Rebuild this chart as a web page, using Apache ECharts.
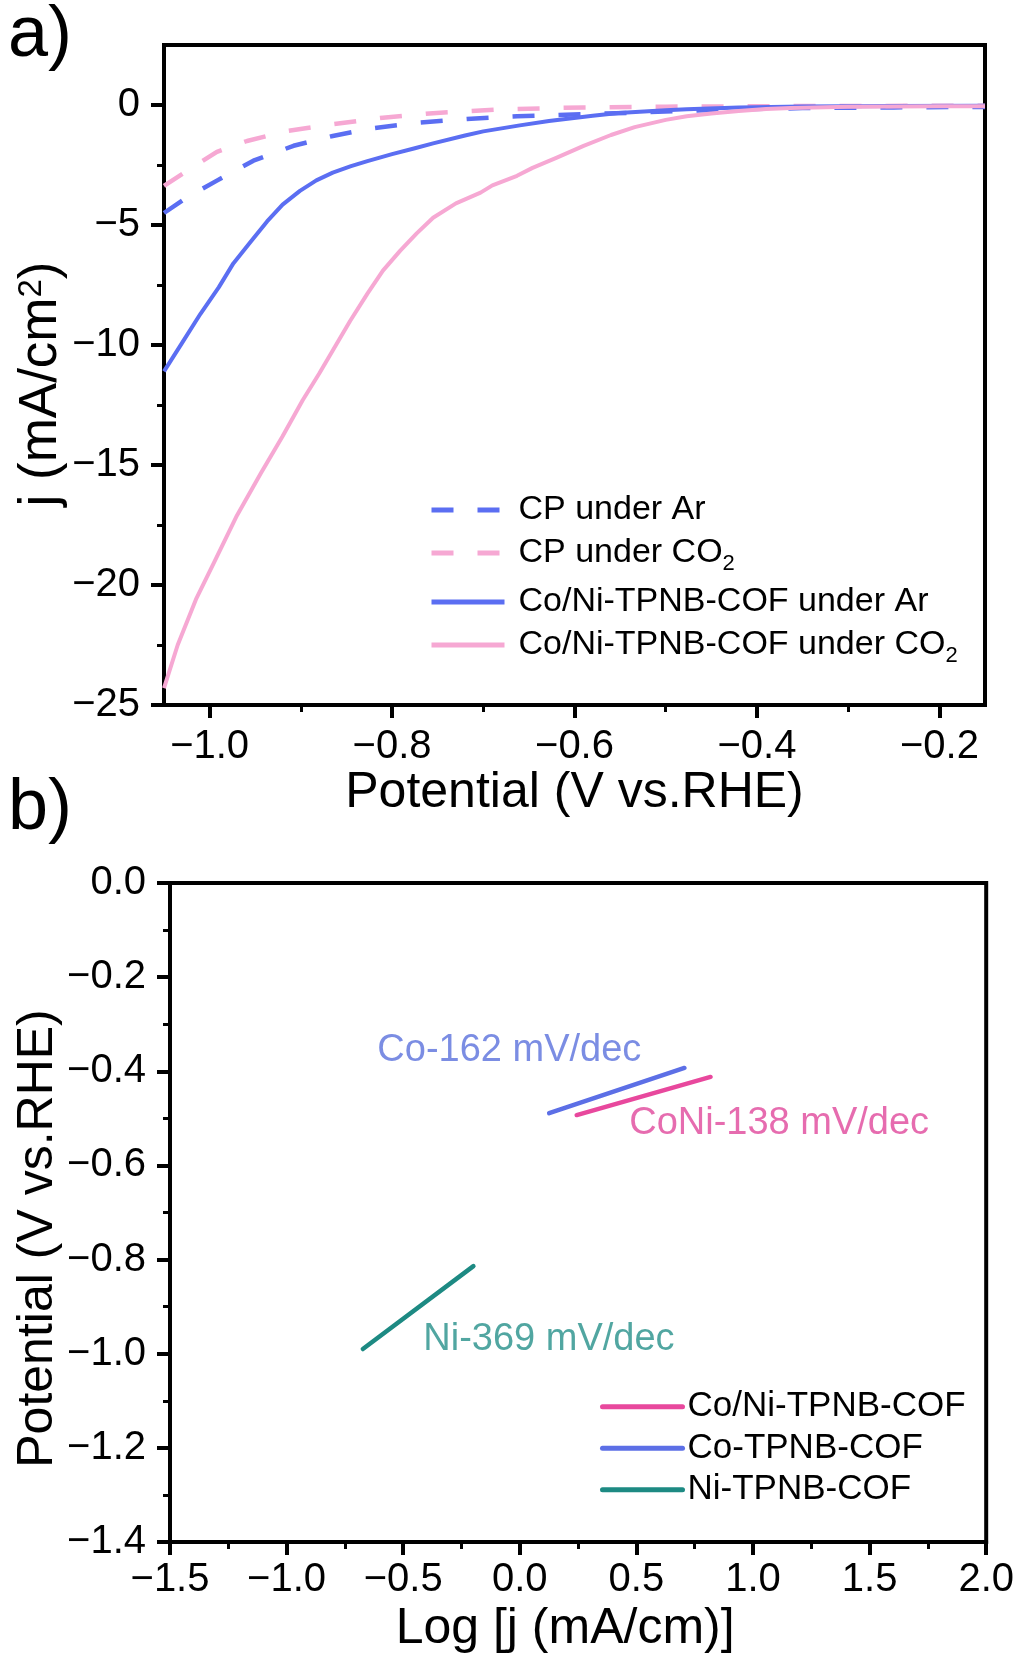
<!DOCTYPE html>
<html>
<head>
<meta charset="utf-8">
<script src="https://cdn.jsdelivr.net/npm/echarts@6/dist/echarts.min.js"></script>
<style>
  html, body { margin: 0; padding: 0; background: #fff; }
  #chart { width: 1017px; height: 1659px; }
</style>
</head>
<body>
<div id="chart"></div>
<script>
const FONT = '"Liberation Sans", Arial, Helvetica, sans-serif';

// ---- Panel a: LSV curves, potential (V vs. RHE) and current density (mA/cm2) ----
const cpArV = [-1.05, -1.025, -0.992, -0.952, -0.908, -0.865, -0.827, -0.773, -0.718, -0.663, -0.628, -0.58, -0.534, -0.477, -0.42, -0.35, -0.25, -0.15];
const cpArJ = [-4.5, -3.85, -3.15, -2.32, -1.7, -1.29, -1.0, -0.74, -0.58, -0.47, -0.43, -0.37, -0.32, -0.24, -0.18, -0.13, -0.1, -0.08];

const cpCo2V = [-1.05, -1.025, -0.992, -0.959, -0.915, -0.865, -0.81, -0.755, -0.682, -0.59, -0.5, -0.4, -0.3, -0.15];
const cpCo2J = [-3.37, -2.75, -1.95, -1.5, -1.08, -0.8, -0.53, -0.34, -0.18, -0.1, -0.07, -0.05, -0.04, -0.03];

const cofArV = [-1.05, -1.03, -1.01, -0.99, -0.974, -0.955, -0.937, -0.92, -0.901, -0.883, -0.865, -0.845, -0.827, -0.8, -0.775, -0.755, -0.72, -0.7, -0.66, -0.628, -0.58, -0.552, -0.5, -0.477, -0.42, -0.35, -0.25, -0.15];
const cofArJ = [-11.1, -9.9, -8.7, -7.6, -6.6, -5.7, -4.85, -4.15, -3.58, -3.14, -2.82, -2.55, -2.34, -2.05, -1.8, -1.6, -1.27, -1.1, -0.85, -0.67, -0.45, -0.33, -0.22, -0.18, -0.1, -0.06, -0.04, -0.03];

const cofCo2V = [-1.05, -1.035, -1.015, -0.994, -0.97, -0.944, -0.92, -0.898, -0.88, -0.865, -0.846, -0.827, -0.81, -0.791, -0.773, -0.755, -0.73, -0.703, -0.69, -0.663, -0.646, -0.62, -0.59, -0.56, -0.534, -0.5, -0.477, -0.45, -0.42, -0.39, -0.363, -0.3, -0.2, -0.15];
const cofCo2J = [-24.3, -22.5, -20.6, -18.97, -17.1, -15.35, -13.8, -12.3, -11.2, -10.23, -9.0, -7.86, -6.9, -6.07, -5.35, -4.7, -4.1, -3.65, -3.35, -2.95, -2.62, -2.2, -1.7, -1.25, -0.92, -0.62, -0.47, -0.35, -0.25, -0.17, -0.12, -0.07, -0.05, -0.05];

// ---- Panel b: Tafel fits, log j and potential at both ends of each fit ----
const tafelCoNiLog = [0.244, 0.818];
const tafelCoNiE = [-0.493, -0.412];
const tafelCoLog = [0.126, 0.706];
const tafelCoE = [-0.489, -0.393];
const tafelNiLog = [-0.673, -0.199];
const tafelNiE = [-0.99, -0.814];

// Slope annotations: text and the data point at the start of each text
const slopeTexts = ['Co-162 mV/dec', 'CoNi-138 mV/dec', 'Ni-369 mV/dec'];
const slopeAnchors = [[-0.613, -0.355], [0.467, -0.51], [-0.416, -0.969]];

// ---- Tick labels ----
const aXTicks = [-1.0, -0.8, -0.6, -0.4, -0.2];
const aYTicks = [0, -5, -10, -15, -20, -25];
const bXTicks = [-1.5, -1.0, -0.5, 0.0, 0.5, 1.0, 1.5, 2.0];
const bYTicks = [0.0, -0.2, -0.4, -0.6, -0.8, -1.0, -1.2, -1.4];

// Legend names
const legendNamesA = ['CP under Ar', 'CP under CO2', 'Co/Ni-TPNB-COF under Ar', 'Co/Ni-TPNB-COF under CO2'];
const legendNamesB = ['Co/Ni-TPNB-COF', 'Co-TPNB-COF', 'Ni-TPNB-COF'];

const BLUE = '#5b6ef2';
const PINK = '#f6a8d3';
const MAGENTA = '#e8489d';
const BLUE_B = '#5c6fe6';
const TEAL = '#1d8a83';

const zip = (xs, ys) => xs.map((x, i) => [x, ys[i]]);
const fmt = d => v => (v < 0 ? '\u2212' : '') + Math.abs(v).toFixed(d);

const tickStyle = { length: 13, lineStyle: { color: '#000', width: 4 } };
const minorStyle = { show: true, splitNumber: 2, length: 7, lineStyle: { color: '#000', width: 3 } };
const lineAxis = { onZero: false, lineStyle: { color: '#000', width: 4 } };
const labelBase = { color: '#000', fontFamily: FONT, fontSize: 40 };
const nameBase = { color: '#000', fontFamily: FONT, fontSize: 50 };

const chart = echarts.init(document.getElementById('chart'), null, { renderer: 'canvas' });

const dash = [22, 24];
const lineSeries = (name, data, color, type, xi, width) => ({
  name, type: 'line', data, xAxisIndex: xi, yAxisIndex: xi,
  symbol: 'none', showSymbol: false, smooth: false,
  lineStyle: { color, width, type, cap: xi === 1 ? 'round' : 'butt', join: 'round' },
  itemStyle: { color },
  emphasis: { disabled: true }, silent: true, z: 3
});

// Panel a legend: one block per entry so the subscripted rows keep their own spacing
const legendTopsA = [488, 531, 580, 623];
const legendA = legendNamesA.map((n, i) => ({
  data: [n],
  orient: 'vertical', left: 429, top: legendTopsA[i], padding: 0,
  itemWidth: 73, itemHeight: 10, selectedMode: false,
  itemStyle: { opacity: 0 },
  lineStyle: { width: 5 },
  formatter: s => s.replace('CO2', 'CO{s|2}'),
  textStyle: {
    color: '#000', fontFamily: FONT, fontSize: 34, lineHeight: 44, padding: [0, 0, 0, 9],
    rich: { s: { fontSize: 22, lineHeight: 22, verticalAlign: 'bottom', color: '#000', fontFamily: FONT } }
  }
}));

const option = {
  backgroundColor: '#fff',
  animation: false,
  textStyle: { fontFamily: FONT },
  grid: [
    { left: 164, top: 45, right: 32, bottom: 954, show: true, borderColor: '#000', borderWidth: 4, backgroundColor: 'transparent' },
    { left: 170, top: 883, right: 29, bottom: 117, show: true, borderColor: '#000', borderWidth: 4, backgroundColor: 'transparent' }
  ],
  xAxis: [
    {
      gridIndex: 0, type: 'value', min: -1.05, max: -0.15, splitNumber: 5,
      axisLine: lineAxis,
      axisTick: Object.assign({ customValues: aXTicks }, tickStyle),
      minorTick: minorStyle,
      axisLabel: Object.assign({ customValues: aXTicks, formatter: fmt(1), margin: 22 }, labelBase),
      splitLine: { show: false },
      name: 'Potential (V vs.RHE)', nameLocation: 'middle', nameGap: 63, nameMoveOverlap: false,
      nameTextStyle: nameBase
    },
    {
      gridIndex: 1, type: 'value', min: -1.5, max: 2.0, interval: 0.5,
      axisLine: lineAxis,
      axisTick: Object.assign({ customValues: bXTicks }, tickStyle),
      minorTick: minorStyle,
      axisLabel: Object.assign({ customValues: bXTicks, formatter: fmt(1), margin: 18 }, labelBase),
      splitLine: { show: false },
      name: 'Log [j (mA/cm)]', nameLocation: 'middle', nameGap: 62, nameMoveOverlap: false,
      nameTextStyle: Object.assign({ padding: [0, 26, 0, 0] }, nameBase)
    }
  ],
  yAxis: [
    {
      gridIndex: 0, type: 'value', min: -25, max: 2.5, interval: 5,
      axisLine: lineAxis,
      axisTick: Object.assign({ customValues: aYTicks }, tickStyle),
      minorTick: minorStyle,
      axisLabel: Object.assign({ customValues: aYTicks, formatter: fmt(0), margin: 24 }, labelBase),
      splitLine: { show: false },
      name: 'j (mA/cm{sup|2})', nameLocation: 'middle', nameGap: 96, nameMoveOverlap: false,
      nameTextStyle: Object.assign({}, nameBase, {
        fontSize: 53,
        padding: [0, 18, 0, 0],
        rich: { sup: { fontSize: 33, fontFamily: FONT, color: '#000', verticalAlign: 'top', lineHeight: 33 } }
      })
    },
    {
      gridIndex: 1, type: 'value', min: -1.4, max: 0, interval: 0.2,
      axisLine: lineAxis,
      axisTick: Object.assign({ customValues: bYTicks }, tickStyle),
      minorTick: minorStyle,
      axisLabel: Object.assign({ customValues: bYTicks, formatter: fmt(1), margin: 24 }, labelBase),
      splitLine: { show: false },
      name: 'Potential (V vs.RHE)', nameLocation: 'middle', nameGap: 107, nameMoveOverlap: false,
      nameTextStyle: Object.assign({ padding: [0, 52, 0, 0] }, nameBase)
    }
  ],
  legend: legendA.concat([
    {
      data: legendNamesB,
      orient: 'vertical', left: 600, top: 1386, padding: 0,
      itemWidth: 80, itemHeight: 10, itemGap: 0, selectedMode: false,
      itemStyle: { opacity: 0 },
      lineStyle: { width: 5 },
      textStyle: { color: '#000', fontFamily: FONT, fontSize: 35, lineHeight: 41.5 }
    }
  ]),
  graphic: [
    { type: 'text', left: 8, top: 0, style: { text: 'a)', font: '72px ' + FONT, fill: '#000' } },
    { type: 'text', left: 8, top: 773, style: { text: 'b)', font: '72px ' + FONT, fill: '#000' } }
  ],
  series: [
    lineSeries(legendNamesA[0], zip(cpArV, cpArJ), BLUE, dash, 0, 4.5),
    lineSeries(legendNamesA[1], zip(cpCo2V, cpCo2J), PINK, dash, 0, 4.5),
    lineSeries(legendNamesA[2], zip(cofArV, cofArJ), BLUE, 'solid', 0, 4),
    lineSeries(legendNamesA[3], zip(cofCo2V, cofCo2J), PINK, 'solid', 0, 4),
    lineSeries(legendNamesB[1], zip(tafelCoLog, tafelCoE), BLUE_B, 'solid', 1, 4.5),
    lineSeries(legendNamesB[0], zip(tafelCoNiLog, tafelCoNiE), MAGENTA, 'solid', 1, 4.5),
    lineSeries(legendNamesB[2], zip(tafelNiLog, tafelNiE), TEAL, 'solid', 1, 4.5),
    {
      name: 'slopes', type: 'scatter', xAxisIndex: 1, yAxisIndex: 1,
      symbolSize: 1, itemStyle: { color: 'rgba(0,0,0,0)' }, silent: true,
      data: slopeAnchors.map((p, i) => ({
        value: p,
        label: { color: ['#5a70dc', '#e0479b', '#25908a'][i] }
      })),
      label: {
        show: true, position: 'right', distance: 0,
        fontFamily: FONT, fontSize: 38,
        formatter: p => slopeTexts[p.dataIndex]
      }
    }
  ]
};

chart.setOption(option);
</script>
</body>
</html>
